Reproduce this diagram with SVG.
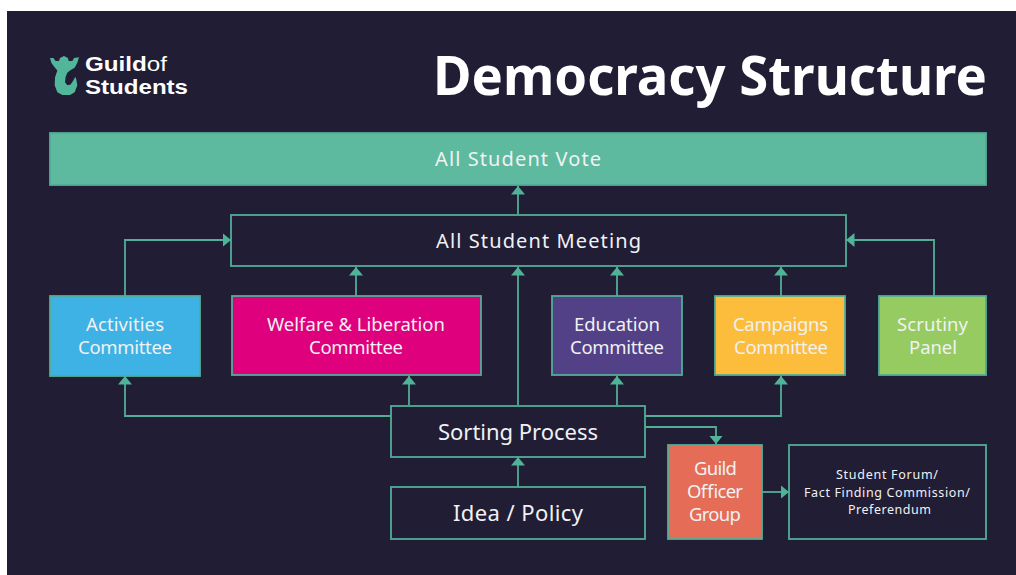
<svg xmlns="http://www.w3.org/2000/svg" width="1016" height="575" viewBox="0 0 1016 575">
<defs>
<marker id="ah" markerUnits="userSpaceOnUse" markerWidth="9" markerHeight="14" refX="8.5" refY="7" orient="auto"><path d="M0 0L8.5 7L0 14Z" fill="#4fb397"/></marker>
</defs>
<style>
text{font-family:"Noto Sans","Open Sans","Liberation Sans",sans-serif;fill:#f1f1f3;text-anchor:middle}
.b{stroke:#52ad97;stroke-width:1.8}
.o{fill:#201d35}
.t{font-size:20px}
.m{font-size:18.500px}
.c{fill:none;stroke:#52ad97;stroke-width:1.8;marker-end:url(#ah)}
.g{font-family:"Liberation Sans",sans-serif;text-anchor:start;font-size:20px;font-weight:700;fill:#fff}
</style>
<rect width="1016" height="575" fill="#fff"/>
<rect x="7" y="11" width="1009" height="564" fill="#201d35"/>
<g id="logo">
<path transform="translate(44 46.250) scale(.3333 .39)" d="M18 30L28 30L35 38L45 38L48 30L60 25L72 30L74 38L85 38L90 30L105 28L100 42L92 55L78 62L70 68L65 78L63 92L70 100L80 98L88 88L94 78L97 85L100 100L92 118L78 125L55 125L40 118L32 100L33 80L40 62L30 52L22 42Z" fill="#52b69a"/>
<text class="g" x="85" y="71" textLength="82" lengthAdjust="spacingAndGlyphs">Guild<tspan font-weight="400">of</tspan></text>
<text class="g" x="85" y="94" textLength="103" lengthAdjust="spacingAndGlyphs">Students</text>
</g>
<text id="title" x="710" y="95" style="font-size:54px;font-weight:700;fill:#fff" textLength="554" lengthAdjust="spacingAndGlyphs">Democracy Structure</text>
<g id="connectors">
<path class="c" d="M518 214V186"/>
<path class="c" d="M125 296V240H231"/>
<path class="c" d="M356 296V267"/>
<path class="c" d="M518 405V267"/>
<path class="c" d="M617 296V267"/>
<path class="c" d="M781 296V267"/>
<path class="c" d="M934 296V240H846"/>
<path class="c" d="M391 416H125V376"/>
<path class="c" d="M409 405V376"/>
<path class="c" d="M617 405V376"/>
<path class="c" d="M645 416H781V376"/>
<path class="c" d="M645 427H716V444"/>
<path class="c" d="M518 487V457"/>
<path class="c" d="M762 492H789"/>
</g>
<g id="all-student-vote"><rect class="b" x="50" y="133" width="936" height="52" fill="#5dba9f"/><text class="t" x="518" y="166" textLength="166">All Student Vote</text></g>
<g id="all-student-meeting"><rect class="b o" x="231" y="215" width="615" height="51"/><text class="t" x="538.500" y="248" textLength="205">All Student Meeting</text></g>
<g id="activities"><rect class="b" x="50" y="296" width="150" height="80" fill="#3eb1e5"/><text class="m" x="125" y="331" textLength="78">Activities</text><text class="m" x="125" y="354" textLength="94">Committee</text></g>
<g id="welfare"><rect class="b" x="232" y="296" width="249" height="79" fill="#de007c"/><text class="m" x="356" y="331" textLength="178">Welfare &amp; Liberation</text><text class="m" x="356" y="354" textLength="94">Committee</text></g>
<g id="education"><rect class="b" x="552" y="296" width="130" height="79" fill="#524187"/><text class="m" x="617" y="331" textLength="86">Education</text><text class="m" x="617" y="354" textLength="94">Committee</text></g>
<g id="campaigns"><rect class="b" x="715" y="296" width="130" height="79" fill="#fdbd3c"/><text class="m" x="780.500" y="331" textLength="95">Campaigns</text><text class="m" x="781" y="354" textLength="94">Committee</text></g>
<g id="scrutiny"><rect class="b" x="879" y="296" width="107" height="79" fill="#95cb60"/><text class="m" x="932.500" y="331" textLength="71">Scrutiny</text><text class="m" x="933" y="354" textLength="48">Panel</text></g>
<g id="sorting"><rect class="b o" x="391" y="406" width="254" height="51"/><text x="518" y="440" style="font-size:22px" textLength="160">Sorting Process</text></g>
<g id="idea"><rect class="b o" x="391" y="487" width="254" height="52"/><text x="518" y="521" style="font-size:22px" textLength="130">Idea / Policy</text></g>
<g id="guild-officer"><rect class="b" x="668" y="445" width="94" height="94" fill="#e56c56"/><text class="m" x="715.500" y="475" textLength="43">Guild</text><text class="m" x="715" y="498" textLength="56">Officer</text><text class="m" x="715" y="521" textLength="52">Group</text></g>
<g id="forum"><rect class="b o" x="789" y="445" width="197" height="94"/><text x="887" y="479" style="font-size:12.500px" textLength="102">Student Forum/</text><text x="887" y="497" style="font-size:12.500px" textLength="166">Fact Finding Commission/</text><text x="889.500" y="514" style="font-size:12.500px" textLength="83">Preferendum</text></g>
</svg>
